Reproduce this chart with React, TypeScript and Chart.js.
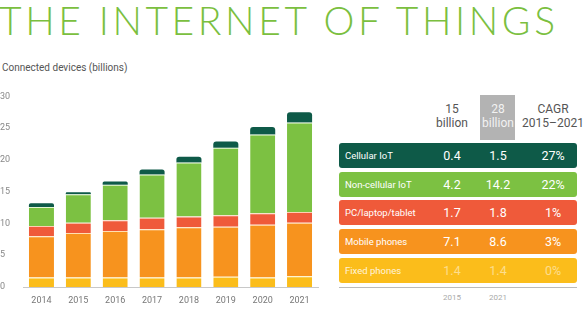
import React, { useEffect, useRef } from "react";
import { Chart, registerables } from "chart.js";

Chart.register(...registerables);

const years = ["2014", "2015", "2016", "2017", "2018", "2019", "2020", "2021"];
const fixedPhones = [1.5, 1.5, 1.5, 1.5, 1.5, 1.6, 1.5, 1.7];
const mobilePhones = [6.5, 7.0, 7.3, 7.6, 7.9, 7.9, 8.3, 8.4];
const pcLaptopTablet = [1.6, 1.6, 1.7, 1.8, 1.7, 1.8, 1.8, 1.7];
const nonCellularIoT = [3.0, 4.5, 5.6, 6.8, 8.5, 10.6, 12.4, 14.1];
const cellularIoT = [0.6, 0.3, 0.5, 0.8, 0.9, 1.0, 1.2, 1.6];
const yTicks = [0, 5, 10, 15, 20, 25, 30];

const tableRows = [
  { label: "Cellular IoT", v2015: "0.4", v2021: "1.5", cagr: "27%", color: "#0e5a48" },
  { label: "Non-cellular IoT", v2015: "4.2", v2021: "14.2", cagr: "22%", color: "#7cc142" },
  { label: "PC/laptop/tablet", v2015: "1.7", v2021: "1.8", cagr: "1%", color: "#ef5a3a" },
  { label: "Mobile phones", v2015: "7.1", v2021: "8.6", cagr: "3%", color: "#f7931e" },
  { label: "Fixed phones", v2015: "1.4", v2021: "1.4", cagr: "0%", color: "#fbbd1b" },
];

const COLORS = {
  fixed: "#fbbd1b",
  mobile: "#f7931e",
  pc: "#ef5a3a",
  non: "#7cc142",
  cell: "#0e5a48",
};

export default function App() {
  const ref = useRef<HTMLCanvasElement>(null);
  useEffect(() => {
    const sep = { top: 1, right: 0, bottom: 0, left: 0 };
    const chart = new Chart(ref.current!, {
      type: "bar",
      data: {
        labels: years,
        datasets: [
          { label: "Fixed phones", data: fixedPhones, backgroundColor: COLORS.fixed, borderColor: "rgba(255,240,180,0.9)", borderWidth: sep, borderSkipped: false },
          { label: "Mobile phones", data: mobilePhones, backgroundColor: COLORS.mobile, borderColor: "rgba(255,220,170,0.9)", borderWidth: sep, borderSkipped: false },
          { label: "PC/laptop/tablet", data: pcLaptopTablet, backgroundColor: COLORS.pc, borderColor: "rgba(255,200,170,0.9)", borderWidth: sep, borderSkipped: false },
          { label: "Non-cellular IoT", data: nonCellularIoT, backgroundColor: COLORS.non, borderColor: "rgba(225,245,205,0.9)", borderWidth: sep, borderSkipped: false },
          { label: "Cellular IoT", data: cellularIoT, backgroundColor: COLORS.cell, borderColor: COLORS.cell, borderWidth: 0, borderRadius: { topLeft: 3, topRight: 3, bottomLeft: 0, bottomRight: 0 }, borderSkipped: false },
        ] as any,
      },
      options: {
        animation: false,
        responsive: false,
        maintainAspectRatio: false,
        layout: { padding: { top: 0, right: 4, bottom: 0, left: 0 } },
        plugins: { legend: { display: false }, tooltip: { enabled: false } },
        datasets: { bar: { categoryPercentage: 1, barPercentage: 0.68 } },
        scales: {
          x: {
            stacked: true,
            grid: { display: false },
            border: { display: true, color: "#c8c8c8", width: 1 },
            ticks: { color: "#777", font: { family: "Roboto, Arial, sans-serif", size: 9 }, padding: 0 },
            afterFit: (s: any) => { s.height = 28; },
          },
          y: {
            stacked: true,
            min: 0,
            max: 30,
            afterBuildTicks: (s: any) => { s.ticks = yTicks.map((v) => ({ value: v })); },
            grid: { display: false },
            border: { display: false },
            ticks: { color: "#888", font: { family: "Roboto, Arial, sans-serif", size: 9 }, padding: 4, crossAlign: "far" },
            afterFit: (s: any) => { s.width = 23; },
          },
        },
      },
    });
    return () => chart.destroy();
  }, []);

  const colX1 = 452, colX2 = 498, colX3 = 553;
  const tableLeft = 339, tableRight = 577;
  const rowTops = [143, 172, 200, 229, 258];

  return (
    <div style={{ position: "fixed", left: 0, top: 0, width: 588, height: 322, background: "#fff", overflow: "hidden", fontFamily: "Roboto, Arial, sans-serif" }}>
      <div style={{ position: "absolute", left: -1, top: -3, fontFamily: "Lato, sans-serif", fontWeight: 300, fontSize: 39, color: "#7bbf3f", letterSpacing: 3.6, whiteSpace: "nowrap", lineHeight: "46px" }}>
        THE INTERNET OF THINGS
      </div>
      <div style={{ position: "absolute", left: 2, top: 62, fontSize: 10, color: "#555", whiteSpace: "nowrap" }}>
        Connected devices (billions)
      </div>
      <canvas ref={ref} width={322} height={228} style={{ position: "absolute", left: 0, top: 87, width: 322, height: 228 }} />

      <div style={{ position: "absolute", left: 480, top: 95, width: 35, height: 45, background: "#b3b3b3" }} />
      <div style={{ position: "absolute", left: colX1 - 30, top: 102, width: 60, textAlign: "center", fontSize: 12, color: "#555", lineHeight: "14px" }}>15<br />billion</div>
      <div style={{ position: "absolute", left: colX2 - 30, top: 102, width: 60, textAlign: "center", fontSize: 12, color: "#f2f2f2", lineHeight: "14px" }}>28<br />billion</div>
      <div style={{ position: "absolute", left: colX3 - 40, top: 102, width: 80, textAlign: "center", fontSize: 12, color: "#555", lineHeight: "14px" }}>CAGR<br />2015–2021</div>

      {tableRows.map((r, i) => (
        <div key={r.label} style={{ position: "absolute", left: tableLeft, top: rowTops[i], width: tableRight - tableLeft, height: 25, background: r.color, borderRadius: 3, color: "#fff" }}>
          <div style={{ position: "absolute", left: 6, top: 0, lineHeight: "25px", fontSize: 9.5, whiteSpace: "nowrap", color: i === 4 ? "rgba(255,255,255,0.85)" : "#fff" }}>{r.label}</div>
          <div style={{ position: "absolute", left: colX1 - tableLeft - 25, width: 50, top: 0, lineHeight: "25px", fontSize: 12.5, textAlign: "center", color: i === 4 ? "rgba(255,255,255,0.5)" : "#fff" }}>{r.v2015}</div>
          <div style={{ position: "absolute", left: colX2 - tableLeft - 25, width: 50, top: 0, lineHeight: "25px", fontSize: 12.5, textAlign: "center", color: i === 4 ? "rgba(255,255,255,0.5)" : "#fff" }}>{r.v2021}</div>
          <div style={{ position: "absolute", left: colX3 - tableLeft - 25, width: 50, top: 0, lineHeight: "25px", fontSize: 12.5, textAlign: "center", color: i === 4 ? "rgba(255,255,255,0.5)" : "#fff" }}>{r.cagr}</div>
        </div>
      ))}
      <div style={{ position: "absolute", left: tableLeft, top: 287, width: tableRight - tableLeft, height: 1, background: "#bbb" }} />
      <div style={{ position: "absolute", left: colX1 - 20, top: 293, width: 40, textAlign: "center", fontSize: 8, color: "#aaa" }}>2015</div>
      <div style={{ position: "absolute", left: colX2 - 20, top: 293, width: 40, textAlign: "center", fontSize: 8, color: "#aaa" }}>2021</div>
    </div>
  );
}
